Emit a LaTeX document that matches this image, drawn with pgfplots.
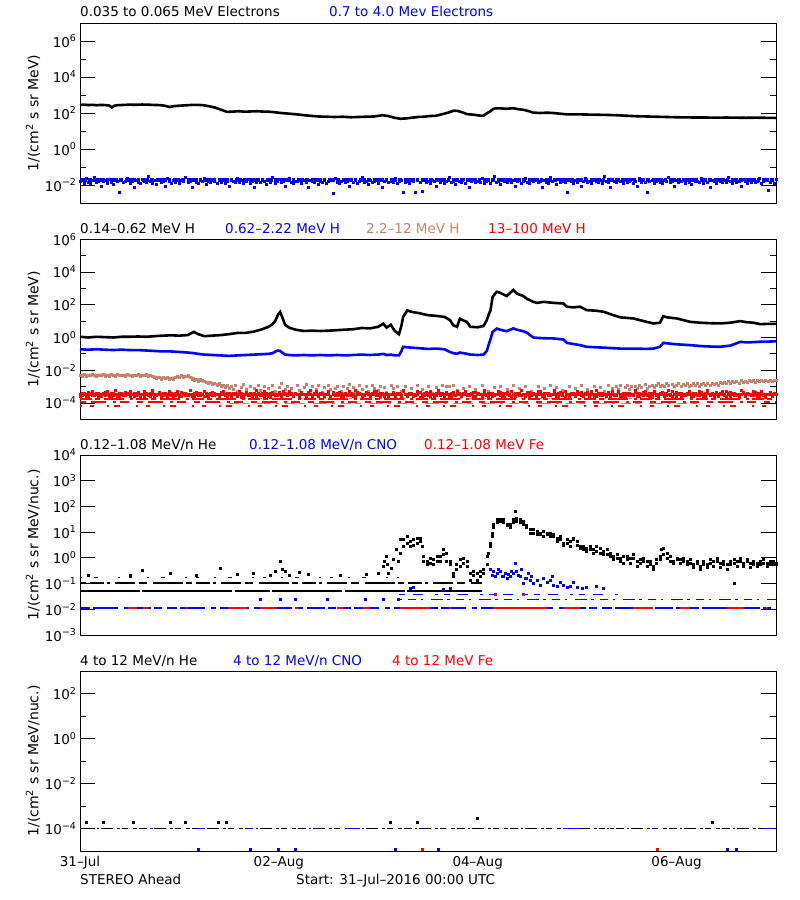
\documentclass[border=0pt]{standalone}
\usepackage{fontspec}
\setmainfont{DejaVu Sans}
\usepackage{pgfplots}
\pgfplotsset{compat=1.18}
\usepackage{pgfplotstable}
\definecolor{brn}{RGB}{200,130,105}
\newcommand{\tf}{\fontsize{13.5}{16}\selectfont}
\newcommand{\tl}[1]{10\textsuperscript{#1}}

\pgfplotstableread{
h eb r1 r2 b1
0 0.016 3.5e-4 2.6e-4 5.2e-3
0.5 0.020 2.9e-4 4.2e-4 4.6e-3
1 0.013 3.8e-4 3.2e-4 5.8e-3
1.5 0.024 2.6e-4 3.5e-4 4.4e-3
2 0.015 4.6e-4 2.3e-4 5.0e-3
2.5 0.012 3.2e-4 3.8e-4 4.8e-3
3 0.018 2.9e-4 5.2e-4 5.5e-3
3.5 0.027 3.5e-4 2.9e-4 4.9e-3
4 0.014 4.2e-4 3.5e-4 4.3e-3
4.5 0.017 2.6e-4 4.0e-4 5.3e-3
5 0.009 3.2e-4 2.6e-4 4.7e-3
5.5 0.016 3.8e-4 3.5e-4 6.0e-3
6 0.019 2.9e-4 4.6e-4 4.6e-3
6.5 0.013 5.2e-4 3.2e-4 5.1e-3
7 0.022 3.5e-4 2.6e-4 4.5e-3
7.5 0.015 2.3e-4 3.8e-4 5.4e-3
8 0.011 4.2e-4 2.9e-4 4.9e-3
8.5 0.018 3.2e-4 6.0e-4 4.4e-3
9 0.016 2.6e-4 3.5e-4 5.6e-3
9.5 0.004 3.8e-4 2.6e-4 5.0e-3
10 0.020 3.5e-4 4.2e-4 4.7e-3
10.5 0.014 2.9e-4 3.2e-4 5.2e-3
11 0.017 4.6e-4 2.9e-4 4.6e-3
11.5 0.024 3.2e-4 3.8e-4 5.7e-3
12 0.013 2.6e-4 5.2e-4 4.8e-3
12.5 0.016 3.5e-4 3.5e-4 4.3e-3
13 0.008 4.2e-4 2.6e-4 5.3e-3
13.5 0.019 2.9e-4 3.8e-4 4.9e-3
14 0.015 3.8e-4 4.6e-4 5.9e-3
14.5 0.012 2.6e-4 2.9e-4 4.5e-3
15 0.022 3.2e-4 3.5e-4 5.0e-3
15.5 0.017 5.2e-4 2.3e-4 4.7e-3
16 0.014 3.5e-4 4.2e-4 5.4e-3
16.5 0.030 2.9e-4 3.2e-4 4.4e-3
17 0.016 4.2e-4 2.6e-4 4.9e-3
17.5 0.013 3.8e-4 6.0e-4 4.2e-3
18 0.018 2.6e-4 3.5e-4 3.8e-3
18.5 0.011 3.5e-4 2.9e-4 3.3e-3
19 0.020 4.6e-4 3.8e-4 3.6e-3
19.5 0.015 3.2e-4 2.6e-4 2.9e-3
20 0.017 2.9e-4 4.2e-4 3.9e-3
20.5 0.009 3.8e-4 3.2e-4 3.1e-3
21 0.024 2.6e-4 3.5e-4 3.5e-3
21.5 0.016 3.5e-4 5.2e-4 2.7e-3
22 0.013 4.2e-4 2.9e-4 3.4e-3
22.5 0.019 3.2e-4 2.3e-4 3.0e-3
23 0.015 2.9e-4 3.8e-4 3.8e-3
23.5 0.022 5.2e-4 3.5e-4 4.4e-3
24 0.012 3.5e-4 2.6e-4 4.0e-3
24.5 0.018 2.6e-4 4.6e-4 4.7e-3
25 0.016 3.8e-4 3.2e-4 3.7e-3
25.5 0.027 4.2e-4 2.9e-4 4.3e-3
26 0.014 2.9e-4 3.5e-4 4.9e-3
26.5 0.017 3.2e-4 6.0e-4 3.9e-3
27 0.008 3.5e-4 2.6e-4 3.0e-3
27.5 0.020 2.6e-4 3.8e-4 2.6e-3
28 0.015 4.6e-4 3.2e-4 2.9e-3
28.5 0.013 3.8e-4 2.9e-4 2.2e-3
29 0.019 2.9e-4 4.2e-4 2.7e-3
29.5 0.016 3.2e-4 3.5e-4 2.4e-3
30 0.024 5.2e-4 2.6e-4 2.0e-3
30.5 0.011 2.6e-4 3.8e-4 1.8e-3
31 0.017 3.5e-4 2.3e-4 1.6e-3
31.5 0.014 4.2e-4 3.2e-4 1.9e-3
32 0.020 2.9e-4 4.6e-4 1.4e-3
32.5 0.016 3.8e-4 2.9e-4 1.7e-3
33 0.012 3.2e-4 3.5e-4 1.3e-3
33.5 0.018 2.6e-4 2.6e-4 1.5e-3
34 0.015 4.6e-4 3.8e-4 1.1e-3
34.5 0.022 3.5e-4 5.2e-4 1.3e-3
35 0.013 2.9e-4 3.2e-4 9.0e-4
35.5 0.017 3.8e-4 2.6e-4 1.2e-3
36 0.009 4.2e-4 3.5e-4 8.0e-4
36.5 0.019 2.6e-4 2.9e-4 1.0e-3
37 0.016 3.2e-4 4.2e-4 6.5e-4
37.5 0.014 3.5e-4 3.8e-4 1.2e-3
38 0.024 2.9e-4 2.6e-4 5.0e-4
38.5 0.015 5.2e-4 3.5e-4 nan
39 0.018 3.8e-4 2.3e-4 9.0e-4
39.5 0.012 2.6e-4 3.2e-4 1.4e-3
40 0.016 4.6e-4 4.6e-4 7.0e-4
40.5 0.020 3.2e-4 2.9e-4 nan
41 0.013 2.9e-4 3.8e-4 1.1e-3
41.5 0.017 3.5e-4 2.6e-4 4.0e-4
42 0.008 4.2e-4 3.5e-4 8.5e-4
42.5 0.015 2.6e-4 6.0e-4 nan
43 0.022 3.8e-4 3.2e-4 1.3e-3
43.5 0.014 3.5e-4 2.9e-4 6.0e-4
44 0.019 2.9e-4 4.2e-4 nan
44.5 0.016 5.2e-4 2.6e-4 1.0e-3
45 0.011 3.2e-4 3.8e-4 3.0e-4
45.5 0.018 2.6e-4 3.5e-4 7.5e-4
46 0.015 4.2e-4 2.3e-4 nan
46.5 0.027 3.8e-4 4.6e-4 1.2e-3
47 0.013 2.9e-4 3.2e-4 5.5e-4
47.5 0.017 3.5e-4 2.9e-4 nan
48 0.020 4.6e-4 3.8e-4 9.5e-4
48.5 0.014 2.6e-4 2.6e-4 1.5e-3
49 0.016 3.2e-4 5.2e-4 nan
49.5 0.009 3.8e-4 3.5e-4 6.5e-4
50 0.018 2.9e-4 2.9e-4 1.1e-3
50.5 0.024 5.2e-4 3.2e-4 nan
51 0.015 3.5e-4 4.2e-4 8.0e-4
51.5 0.012 2.6e-4 2.6e-4 3.5e-4
52 0.017 4.2e-4 3.8e-4 nan
52.5 0.016 3.2e-4 3.5e-4 1.2e-3
53 0.021 2.9e-4 2.3e-4 6.0e-4
53.5 0.013 3.8e-4 4.6e-4 nan
54 0.018 3.5e-4 3.2e-4 9.0e-4
54.5 0.015 2.6e-4 2.9e-4 1.4e-3
55 0.008 4.6e-4 3.8e-4 nan
55.5 0.019 3.2e-4 6.0e-4 5.0e-4
56 0.016 2.9e-4 2.6e-4 1.0e-3
56.5 0.014 3.8e-4 3.5e-4 nan
57 0.022 5.2e-4 3.2e-4 7.0e-4
57.5 0.011 2.6e-4 2.9e-4 1.2e-3
58 0.017 3.5e-4 4.2e-4 nan
58.5 0.015 4.2e-4 3.8e-4 4.5e-4
59 0.020 2.9e-4 2.6e-4 9.5e-4
59.5 0.013 3.2e-4 3.5e-4 nan
60 0.016 3.8e-4 5.2e-4 1.3e-3
60.5 0.018 2.6e-4 2.3e-4 6.5e-4
61 0.0035 4.6e-4 3.2e-4 nan
61.5 0.024 3.5e-4 2.9e-4 8.5e-4
62 0.015 2.9e-4 3.8e-4 1.1e-3
62.5 0.012 3.2e-4 4.6e-4 nan
63 0.017 4.2e-4 2.6e-4 5.5e-4
63.5 0.019 2.6e-4 3.5e-4 1.0e-3
64 0.014 3.8e-4 3.2e-4 nan
64.5 0.016 3.5e-4 2.9e-4 7.5e-4
65 0.009 5.2e-4 4.2e-4 1.4e-3
65.5 0.021 2.9e-4 3.8e-4 nan
66 0.015 3.2e-4 2.6e-4 9.0e-4
66.5 0.018 2.6e-4 6.0e-4 4.0e-4
67 0.013 4.6e-4 3.5e-4 nan
67.5 0.016 3.8e-4 3.2e-4 1.2e-3
68 0.027 3.5e-4 2.3e-4 7.0e-4
68.5 0.014 2.9e-4 2.9e-4 nan
69 0.017 4.2e-4 4.6e-4 1.0e-3
69.5 0.011 3.2e-4 3.8e-4 5.0e-4
70 0.019 2.6e-4 2.6e-4 nan
70.5 0.015 3.8e-4 3.5e-4 1.3e-3
71 0.016 5.2e-4 3.2e-4 8.0e-4
71.5 0.022 2.9e-4 5.2e-4 nan
72 0.013 3.5e-4 2.9e-4 6.0e-4
72.5 0.018 2.6e-4 3.8e-4 1.1e-3
73 0.008 4.2e-4 4.2e-4 nan
73.5 0.016 3.2e-4 2.6e-4 9.0e-4
74 0.020 3.8e-4 3.5e-4 4.5e-4
74.5 0.014 2.9e-4 2.3e-4 nan
75 0.017 3.5e-4 3.2e-4 1.2e-3
75.5 0.015 4.6e-4 4.6e-4 7.5e-4
76 0.024 2.6e-4 2.9e-4 nan
76.5 0.012 3.2e-4 3.8e-4 1.0e-3
77 0.016 3.8e-4 3.5e-4 nan
77.5 0.019 2.9e-4 2.6e-4 5.5e-4
78 0.004 5.2e-4 6.0e-4 nan
78.5 0.015 3.5e-4 3.2e-4 1.1e-3
79 0.017 2.6e-4 2.9e-4 nan
79.5 0.013 4.2e-4 4.2e-4 nan
80 0.021 3.8e-4 3.8e-4 8.0e-4
80.5 0.016 3.2e-4 2.6e-4 nan
81 0.004 2.9e-4 3.5e-4 nan
81.5 0.018 3.5e-4 5.2e-4 1.2e-3
82 0.014 4.6e-4 2.3e-4 nan
82.5 0.0045 2.6e-4 3.2e-4 6.5e-4
83 0.022 3.8e-4 2.9e-4 nan
83.5 0.015 3.2e-4 4.6e-4 nan
84 0.017 2.9e-4 3.8e-4 1.0e-3
84.5 0.012 5.2e-4 2.6e-4 nan
85 0.019 3.5e-4 3.5e-4 4.0e-4
85.5 0.016 2.6e-4 3.2e-4 nan
86 0.009 4.2e-4 2.9e-4 9.0e-4
86.5 0.020 3.8e-4 6.0e-4 nan
87 0.015 2.9e-4 4.2e-4 nan
87.5 0.018 3.2e-4 3.8e-4 1.3e-3
88 0.013 3.5e-4 2.6e-4 nan
88.5 0.016 4.6e-4 3.5e-4 1.1e-3
89 0.027 2.6e-4 3.2e-4 1.0e-3
89.5 0.014 3.8e-4 2.3e-4 nan
90 0.017 3.2e-4 4.6e-4 1.2e-3
90.5 0.011 2.9e-4 2.9e-4 nan
91 0.019 5.2e-4 3.8e-4 6.0e-4
91.5 0.016 3.5e-4 4.2e-4 nan
92 0.015 2.6e-4 2.6e-4 nan
92.5 0.022 4.2e-4 3.5e-4 8.5e-4
93 0.013 3.8e-4 5.2e-4 nan
93.5 0.018 2.9e-4 3.2e-4 nan
94 0.008 3.2e-4 2.9e-4 1.1e-3
94.5 0.016 3.5e-4 3.8e-4 nan
95 0.020 4.6e-4 2.6e-4 nan
95.5 0.014 2.6e-4 4.6e-4 7.0e-4
96 0.017 3.8e-4 3.5e-4 nan
96.5 0.015 3.2e-4 3.2e-4 nan
97 0.024 2.9e-4 2.3e-4 1.2e-3
97.5 0.012 5.2e-4 6.0e-4 nan
98 0.016 3.5e-4 2.9e-4 nan
98.5 0.019 2.6e-4 3.8e-4 5.0e-4
99 0.013 4.2e-4 4.2e-4 nan
99.5 0.018 3.8e-4 2.6e-4 nan
100 0.030 2.9e-4 3.5e-4 9.0e-4
100.5 0.015 3.2e-4 3.2e-4 nan
101 0.017 3.5e-4 5.2e-4 nan
101.5 0.011 4.6e-4 2.9e-4 1.0e-3
102 0.020 2.6e-4 3.8e-4 nan
102.5 0.016 3.8e-4 2.3e-4 nan
103 0.014 3.2e-4 4.6e-4 6.5e-4
103.5 0.022 2.9e-4 3.5e-4 nan
104 0.015 5.2e-4 2.6e-4 nan
104.5 0.018 3.5e-4 3.2e-4 1.2e-3
105 0.009 2.6e-4 4.2e-4 nan
105.5 0.016 4.2e-4 3.8e-4 nan
106 0.019 3.8e-4 2.9e-4 8.0e-4
106.5 0.013 2.9e-4 6.0e-4 nan
107 0.017 3.2e-4 3.5e-4 nan
107.5 0.024 3.5e-4 2.6e-4 1.0e-3
108 0.015 4.6e-4 3.2e-4 nan
108.5 0.012 2.6e-4 4.6e-4 nan
109 0.018 3.8e-4 2.9e-4 5.5e-4
109.5 0.016 3.2e-4 3.8e-4 nan
110 0.021 2.9e-4 2.3e-4 nan
110.5 0.014 5.2e-4 3.5e-4 1.1e-3
111 0.017 3.5e-4 5.2e-4 nan
111.5 0.008 2.6e-4 3.2e-4 nan
112 0.019 4.2e-4 2.6e-4 7.5e-4
112.5 0.015 3.8e-4 4.2e-4 nan
113 0.013 2.9e-4 3.8e-4 nan
113.5 0.027 3.2e-4 2.9e-4 1.3e-3
114 0.016 3.5e-4 3.5e-4 nan
114.5 0.018 4.6e-4 6.0e-4 nan
115 0.011 2.6e-4 3.2e-4 9.0e-4
115.5 0.020 3.8e-4 2.6e-4 nan
116 0.015 3.2e-4 4.6e-4 nan
116.5 0.017 2.9e-4 3.8e-4 6.0e-4
117 0.014 5.2e-4 2.3e-4 nan
117.5 0.004 3.5e-4 3.5e-4 nan
118 0.022 2.6e-4 2.9e-4 1.0e-3
118.5 0.016 4.2e-4 4.2e-4 nan
119 0.013 3.8e-4 3.2e-4 nan
119.5 0.018 2.9e-4 2.6e-4 8.5e-4
120 0.015 3.2e-4 5.2e-4 nan
120.5 0.019 3.5e-4 3.8e-4 nan
121 0.009 4.6e-4 2.9e-4 1.2e-3
121.5 0.016 2.6e-4 3.5e-4 nan
122 0.024 3.8e-4 3.2e-4 nan
122.5 0.014 3.2e-4 4.6e-4 7.0e-4
123 0.017 2.9e-4 2.6e-4 nan
123.5 0.012 5.2e-4 3.8e-4 nan
124 0.020 3.5e-4 2.3e-4 1.1e-3
124.5 0.016 2.6e-4 6.0e-4 nan
125 0.015 4.2e-4 3.5e-4 nan
125.5 0.018 3.8e-4 2.9e-4 9.0e-4
126 0.013 2.9e-4 4.2e-4 nan
126.5 0.030 3.2e-4 3.2e-4 5.0e-4
127 0.017 3.5e-4 2.6e-4 nan
127.5 0.015 4.6e-4 3.8e-4 1.2e-3
128 0.008 2.6e-4 3.5e-4 nan
128.5 0.019 3.8e-4 5.2e-4 8.0e-4
129 0.016 3.2e-4 2.9e-4 nan
129.5 0.014 2.9e-4 3.2e-4 1.0e-3
130 0.022 5.2e-4 4.6e-4 7.0e-4
130.5 0.017 3.5e-4 2.6e-4 1.2e-3
131 0.012 2.6e-4 3.8e-4 nan
131.5 0.018 4.2e-4 2.3e-4 9.0e-4
132 0.015 3.8e-4 3.5e-4 1.3e-3
132.5 0.016 2.9e-4 4.2e-4 6.5e-4
133 0.020 3.2e-4 3.2e-4 1.0e-3
133.5 0.013 3.5e-4 2.9e-4 nan
134 0.017 4.6e-4 6.0e-4 1.1e-3
134.5 0.009 2.6e-4 3.8e-4 8.0e-4
135 0.024 3.8e-4 2.6e-4 1.2e-3
135.5 0.015 3.2e-4 3.5e-4 9.5e-4
136 0.018 2.9e-4 4.6e-4 nan
136.5 0.014 5.2e-4 3.2e-4 1.4e-3
137 0.004 3.5e-4 2.9e-4 7.5e-4
137.5 0.016 2.6e-4 3.8e-4 1.1e-3
138 0.019 4.2e-4 2.3e-4 1.3e-3
138.5 0.013 3.8e-4 5.2e-4 9.0e-4
139 0.017 2.9e-4 3.5e-4 1.2e-3
139.5 0.021 3.2e-4 2.6e-4 1.5e-3
140 0.015 3.5e-4 4.2e-4 1.0e-3
140.5 0.012 4.6e-4 3.2e-4 1.3e-3
141 0.018 2.6e-4 3.8e-4 1.1e-3
141.5 0.016 3.8e-4 2.9e-4 1.6e-3
142 0.027 3.2e-4 6.0e-4 1.2e-3
142.5 0.014 2.9e-4 3.5e-4 nan
143 0.017 5.2e-4 2.6e-4 1.4e-3
143.5 0.009 3.5e-4 3.2e-4 1.0e-3
144 0.019 2.6e-4 4.6e-4 1.3e-3
144.5 0.015 4.2e-4 3.8e-4 1.5e-3
145 0.016 3.8e-4 2.3e-4 1.1e-3
145.5 0.022 2.9e-4 3.5e-4 1.4e-3
146 0.013 3.2e-4 2.9e-4 1.2e-3
146.5 0.018 3.5e-4 4.2e-4 1.6e-3
147 0.015 4.6e-4 5.2e-4 1.0e-3
147.5 0.011 2.6e-4 3.2e-4 1.3e-3
148 0.020 3.8e-4 2.6e-4 1.5e-3
148.5 0.016 3.2e-4 3.8e-4 1.2e-3
149 0.017 2.9e-4 3.5e-4 1.7e-3
149.5 0.014 5.2e-4 2.9e-4 1.1e-3
150 0.024 3.5e-4 4.6e-4 1.4e-3
150.5 0.012 2.6e-4 3.2e-4 1.6e-3
151 0.018 4.2e-4 2.6e-4 1.3e-3
151.5 0.015 3.8e-4 6.0e-4 1.5e-3
152 0.008 2.9e-4 3.5e-4 1.2e-3
152.5 0.019 3.2e-4 3.8e-4 1.7e-3
153 0.016 3.5e-4 2.3e-4 1.4e-3
153.5 0.013 4.6e-4 4.2e-4 1.6e-3
154 0.021 2.6e-4 2.9e-4 1.3e-3
154.5 0.017 3.8e-4 3.2e-4 1.8e-3
155 0.015 3.2e-4 5.2e-4 1.5e-3
155.5 0.018 2.9e-4 3.5e-4 1.9e-3
156 0.014 5.2e-4 2.6e-4 1.6e-3
156.5 0.027 3.5e-4 3.8e-4 2.0e-3
157 0.016 2.6e-4 4.6e-4 1.7e-3
157.5 0.012 4.2e-4 3.2e-4 2.2e-3
158 0.019 3.8e-4 2.9e-4 1.8e-3
158.5 0.015 2.9e-4 3.5e-4 2.1e-3
159 0.017 3.2e-4 2.3e-4 1.6e-3
159.5 0.009 3.5e-4 6.0e-4 2.3e-3
160 0.022 4.6e-4 3.8e-4 1.9e-3
160.5 0.016 2.6e-4 2.6e-4 2.2e-3
161 0.013 3.8e-4 4.2e-4 1.8e-3
161.5 0.018 3.2e-4 3.5e-4 2.4e-3
162 0.015 2.9e-4 3.2e-4 2.0e-3
162.5 0.020 5.2e-4 2.9e-4 2.3e-3
163 0.014 3.5e-4 4.6e-4 1.9e-3
163.5 0.017 2.6e-4 3.8e-4 2.5e-3
164 0.024 4.2e-4 2.6e-4 2.1e-3
164.5 0.012 3.8e-4 5.2e-4 2.3e-3
165 0.016 2.9e-4 3.5e-4 2.0e-3
165.5 0.019 3.2e-4 2.3e-4 2.4e-3
166 0.005 3.5e-4 3.2e-4 2.2e-3
166.5 0.015 4.6e-4 4.2e-4 2.6e-3
167 0.018 2.6e-4 2.9e-4 2.1e-3
167.5 0.013 3.8e-4 3.8e-4 2.4e-3
168 0.021 3.2e-4 3.5e-4 2.3e-3
}\tabA

\pgfplotstableread{
h k b
0 1.1 0.19
2 1.0 0.18
4 1.1 0.19
6 1.05 0.18
8 1.0 0.17
10 1.1 0.18
12 1.1 0.17
14 1.15 0.17
16 1.1 0.16
18 1.2 0.15
20 1.3 0.14
22 1.35 0.14
24 1.3 0.13
26 1.4 0.12
27.5 2.2 0.11
28.5 1.6 0.10
30 1.2 0.09
32 1.3 0.085
34 1.4 0.08
36 1.6 0.075
38 1.9 0.08
40 1.9 0.085
42 2.3 0.09
44 3.2 0.095
45.5 4.5 0.1
46.5 6.5 0.11
47.2 11 0.14
47.8 25 0.16
48.3 36 0.15
48.8 18 0.12
49.5 6 0.09
50.5 4 0.085
52 3 0.08
54 2.5 0.085
56 2.6 0.08
58 2.5 0.085
60 2.6 0.08
62 2.8 0.085
64 3.0 0.08
66 3.2 0.085
68 3.8 0.09
70 3.6 0.085
72 4.5 0.09
73.2 7 0.1
74 4 0.085
75 6 0.09
76 2.5 0.08
77 1.6 0.08
77.6 5.6 0.15
78 18 0.27
79 45 0.25
80 37 0.24
82 30 0.22
84 23 0.2
86 21 0.21
88 18 0.19
89.3 11.5 0.13
90.1 5.6 0.11
91 4.5 0.1
91.7 14 0.12
92.5 11 0.11
93.4 9 0.1
94.2 4.5 0.09
96 4.2 0.085
97.4 5 0.09
98.2 11.5 0.15
98.6 23 0.34
99.1 47 0.8
99.6 310 2.2
100.6 620 3.5
101.4 540 3.0
103 340 2.4
104.6 800 3.6
105.4 490 3.0
107 340 2.4
108 220 1.9
108.6 190 1.4
109.4 150 1.0
110.3 130 0.95
111.9 150 0.9
114.3 130 0.87
116.7 120 0.75
117.5 76 0.47
119.1 69 0.4
120.7 76 0.34
122.3 47 0.27
124.7 43 0.25
126.4 37 0.24
128.8 23 0.22
130.4 17 0.21
133.6 14.5 0.21
136.8 9 0.2
138.4 7.2 0.21
140 8 0.27
140.8 20 0.47
141.7 17 0.44
144.1 14.5 0.38
147.3 9 0.34
149.7 8 0.3
152 7.5 0.28
154.5 7.2 0.27
157 8 0.32
159.4 10 0.54
161 8.5 0.5
162.6 8 0.52
164.2 6.5 0.55
166 6.8 0.56
168 6.8 0.58
}\tabB

\pgfplotstableread{
h a c
77.3 5.1 1.55
78.1 5.1 2.8
78.9 3.8 6.9
79.7 4.4 2.8
80.5 5.1 3.2
81.3 5.9 3.8
82.1 5.9 4.4
82.5 2.8 nan
82.9 1.15 0.75
83.7 0.75 0.55
84.5 1.0 0.64
85.3 0.87 0.55
86.1 0.75 1.15
86.9 1.15 0.75
87.7 2.1 1.35
88.5 1.55 0.75
89.3 0.75 0.55
90.1 0.26 0.19
90.9 0.55 0.35
91.7 0.87 0.48
92.5 1.0 0.64
93.4 0.75 0.48
94.2 0.26 0.13
95.0 0.3 0.22
95.8 0.26 0.13
96.6 0.3 0.19
97.4 0.26 0.35
98.2 1.15 0.55
98.6 1.55 nan
99.0 3.8 2.8
99.4 9.4 6.9
99.8 20 15
100.6 31 24
101.4 27 33
102.2 24 31
103.0 18 20
103.8 20 15
104.6 31 24
105.0 65 nan
105.4 36 27
106.2 31 24
107.0 20 27
107.8 15 18
108.6 13 9.4
109.4 9.4 13
110.3 8 11
111.1 8 9.4
111.9 11 6.9
112.7 9.4 8
113.5 9.4 6.9
114.3 6.9 8
115.1 5.9 4.4
115.9 5.1 6.9
116.7 3.8 3.2
117.5 3.8 5.1
118.3 2.8 4.4
119.1 5.1 5.9
119.9 4.4 3.2
120.7 2.4 2.8
121.5 2.8 2.1
122.3 2.4 1.8
123.1 2.8 2.1
123.9 2.1 1.55
124.7 2.8 1.8
125.5 2.4 1.55
126.4 1.8 1.35
127.2 1.35 2.1
128.0 1.15 1.55
128.8 1.15 0.87
129.6 1.0 1.35
130.4 1.0 0.75
131.2 1.15 0.64
132.0 0.87 1.15
132.8 1.0 0.64
133.6 1.0 1.35
134.4 0.75 0.48
135.2 0.87 0.64
136.0 0.75 1.0
136.8 0.75 0.48
137.6 0.55 0.75
138.4 0.48 0.35
139.2 0.64 0.87
140.0 0.87 1.15
140.4 2.1 nan
140.8 2.4 1.35
141.7 1.55 1.0
142.5 1.15 0.75
143.3 0.75 0.64
144.1 0.87 1.0
144.9 0.87 0.64
145.7 0.75 1.0
146.5 0.75 0.55
147.3 0.64 0.87
148.1 0.55 0.42
148.9 0.64 0.75
149.7 0.48 0.35
150.5 0.55 0.75
151.3 0.55 0.42
152.1 0.64 0.87
152.9 0.75 0.48
153.7 0.75 1.0
154.5 0.64 0.42
155.3 0.55 0.75
156.1 0.55 0.35
156.9 0.75 0.55
157.8 0.64 0.87
158.6 0.75 0.48
159.4 0.75 1.0
160.2 0.64 0.48
161.0 0.75 0.87
161.8 0.64 0.42
162.6 0.55 0.75
163.4 0.64 0.48
164.2 0.55 0.75
165.0 0.64 0.87
165.8 0.64 0.48
166.6 0.55 0.75
167.4 0.75 0.55
168.0 0.55 0.64
}\tabD

\begin{document}
\begin{tikzpicture}
\path[use as bounding box] (0pt,0pt) rectangle (800pt,900pt);

% ---------- Panel 1 ----------
\begin{axis}[at={(80pt,697pt)}, anchor=south west,
  width=696pt, height=180pt, scale only axis,
  xmin=0, xmax=168, ymode=log, ymin=1e-3, ymax=1e7,
  axis line style={line width=0.8pt},
  tick style={black, line width=0.8pt}, tick align=inside,
  major tick length=15pt, minor tick length=6pt,
  xtick=\empty, minor xtick={0,12,...,168},
  ytick={1e-2,1,1e2,1e4,1e6},
  yticklabels={\tl{−2},\tl{0},\tl{2},\tl{4},\tl{6}},
  minor ytick={1e-1,1e1,1e3,1e5},
  yticklabel style={font=\fontsize{13.5}{15}\selectfont},
  ylabel={1/(cm\textsuperscript{2} s sr MeV)},
  ylabel style={at={(axis description cs:-0.0675,0.5)}, anchor=center, font=\fontsize{14}{16}\selectfont}]
\addplot[black, line width=2.6pt] coordinates {
(0,280)(1,290)(2,275)(3,285)(4,270)(5,280)(6,275)(7,262)(7.7,205)(8.2,250)(9,270)(10.5,280)(12,290)(13.5,285)(15,295)(16.3,290)(17.8,280)(19.2,275)(20.6,250)(21.6,215)(22.6,240)(24,255)(25.4,265)(26.9,280)(28.3,285)(29.8,270)(31.2,235)(32.6,200)(34.1,150)(35.5,115)(37,120)(38.4,125)(39.8,118)(41.3,122)(42.7,125)(44.2,120)(45.6,118)(47,110)(48.5,100)(50.4,92)(52.3,84)(54.2,75)(56.2,68)(57.6,64)(59.5,62)(61.4,60)(63.4,62)(65.3,58)(67.2,60)(69.1,62)(71,64)(73,75)(74.4,68)(75.8,55)(77.3,48)(78.7,50)(80.2,55)(81.6,60)(83,62)(84.5,68)(85.9,70)(87.4,85)(89.3,112)(90.2,135)(91.2,130)(92.2,110)(93.4,87)(95,80)(96.5,72)(97.4,71)(98.2,95)(99,123)(99.6,160)(100.2,182)(101.5,180)(103,172)(104.6,185)(105.6,165)(107,150)(107.9,135)(109.4,105)(111,100)(112.8,104)(114.2,100)(115.7,92)(117.6,84)(120,84)(122.4,82)(124.8,80)(127.2,78)(129.6,75)(132,70)(134.4,66)(136.8,64)(139.2,62)(141.6,60)(144,58)(146.4,57)(148.8,56)(151.2,56)(153.6,55)(156,56)(158.4,55)(160.8,54)(163.2,55)(165.6,54)(168,53)};
\addplot[blue, line width=3.5pt, dash pattern=on 7pt off 1pt on 4pt off 2pt on 11pt off 1pt on 3pt off 2pt] coordinates {(0,0.019)(168,0.019)};
\addplot[blue, only marks, mark=square*, mark size=1pt] table[x=h, y=eb] {\tabA};
\end{axis}

% ---------- Panel 2 ----------
\begin{axis}[at={(80pt,480.7pt)}, anchor=south west,
  width=696pt, height=180pt, scale only axis,
  xmin=0, xmax=168, ymode=log, ymin=1e-5, ymax=1e6,
  axis line style={line width=0.8pt},
  tick style={black, line width=0.8pt}, tick align=inside,
  major tick length=15pt, minor tick length=6pt,
  xtick=\empty, minor xtick={0,12,...,168},
  ytick={1e-4,1e-2,1,1e2,1e4,1e6},
  yticklabels={\tl{−4},\tl{−2},\tl{0},\tl{2},\tl{4},\tl{6}},
  minor ytick={1e-3,1e-1,1e1,1e3,1e5},
  yticklabel style={font=\fontsize{13.5}{15}\selectfont},
  ylabel={1/(cm\textsuperscript{2} s sr MeV)},
  ylabel style={at={(axis description cs:-0.0675,0.5)}, anchor=center, font=\fontsize{14}{16}\selectfont}]
\addplot[black, line width=2.6pt] table[x=h, y=k] {\tabB};
\addplot[blue, line width=2.6pt] table[x=h, y=b] {\tabB};
\addplot[brn, line width=2.6pt] coordinates {(0,5e-3)(6,5.1e-3)(12,4.9e-3)(17,4.7e-3)(19,3.4e-3)(22,3.2e-3)(24.5,4.2e-3)(26.5,3.9e-3)(28,2.8e-3)(30,2.0e-3)(32,1.6e-3)(34,1.2e-3)(36,9e-4)};
\addplot[brn, only marks, mark=square*, mark size=1pt] table[x=h, y=b1] {\tabA};
\addplot[brn, line width=1.6pt, dash pattern=on 10pt off 4pt on 6pt off 8pt on 14pt off 5pt on 3pt off 6pt] coordinates {(36,9e-5)(150,9e-5)};
\addplot[brn, line width=1.4pt, dash pattern=on 3pt off 9pt on 5pt off 14pt on 2pt off 7pt] coordinates {(36,1.9e-4)(140,1.9e-4)};
\addplot[red, line width=3pt, dash pattern=on 9pt off 1pt on 5pt off 2pt on 12pt off 1pt on 4pt off 2pt] coordinates {(0,3.4e-4)(168,3.4e-4)};
\addplot[red, only marks, mark=square*, mark size=1pt] table[x=h, y=r1] {\tabA};
\addplot[red, only marks, mark=square*, mark size=1pt] table[x=h, y=r2] {\tabA};
\addplot[red, line width=1.5pt, dash pattern=on 12pt off 3pt on 5pt off 4pt on 20pt off 6pt on 3pt off 3pt] coordinates {(0,1.8e-4)(168,1.8e-4)};
\addplot[red, line width=1.4pt, dash pattern=on 6pt off 5pt on 15pt off 7pt on 3pt off 4pt on 9pt off 8pt] coordinates {(0,1.15e-4)(168,1.15e-4)};
\addplot[red, line width=1.3pt, dash pattern=on 2pt off 8pt on 4pt off 13pt on 2pt off 5pt on 6pt off 16pt] coordinates {(0,6.5e-5)(168,6.5e-5)};
\end{axis}

% ---------- Panel 3 ----------
\begin{axis}[at={(80pt,265pt)}, anchor=south west,
  width=696pt, height=180pt, scale only axis,
  xmin=0, xmax=168, ymode=log, ymin=1e-3, ymax=1e4,
  axis line style={line width=0.8pt},
  tick style={black, line width=0.8pt}, tick align=inside,
  major tick length=15pt, minor tick length=6pt,
  xtick=\empty, minor xtick={0,12,...,168},
  ytick={1e-3,1e-2,1e-1,1,1e1,1e2,1e3,1e4},
  yticklabels={\tl{−3},\tl{−2},\tl{−1},\tl{0},\tl{1},\tl{2},\tl{3},\tl{4}},
  yminorticks=false,
  yticklabel style={font=\fontsize{13.5}{15}\selectfont},
  ylabel={1/(cm\textsuperscript{2} s sr MeV/nuc.)},
  ylabel style={at={(axis description cs:-0.0675,0.5)}, anchor=center, font=\fontsize{14}{16}\selectfont}]
\addplot[black, line width=2pt, dash pattern=on 60pt off 2pt on 90pt off 3pt on 35pt off 2pt on 70pt off 3pt] coordinates {(0,0.053)(97,0.053)};
\addplot[black, line width=1.8pt, dash pattern=on 6pt off 4pt on 14pt off 3pt on 3pt off 5pt on 20pt off 4pt on 8pt off 6pt on 30pt off 3pt] coordinates {(0,0.107)(97,0.107)};
\addplot[black, line width=1.5pt, dash pattern=on 2pt off 12pt on 4pt off 20pt on 2pt off 9pt on 3pt off 15pt] coordinates {(0,0.17)(77,0.17)};
\addplot[black, only marks, mark=square*, mark size=1pt] coordinates {(2,0.22)(12,0.21)(15,0.33)(21.7,0.25)(28,0.21)(33.8,0.41)(38,0.24)(41.8,0.25)(45.9,0.22)(47,0.3)(48.3,0.74)(48.8,0.35)(49.5,0.3)(50.5,0.22)(53,0.27)(55,0.24)(62.8,0.21)(69.2,0.24)(72,0.25)(73.2,0.47)(73.5,0.74)(73.8,1.15)(74.2,0.55)(74.5,0.25)(75,0.4)(75.5,0.9)(76.4,2.1)(76.8,0.74)(158,0.107)};
\addplot[black, only marks, mark=square*, mark size=1pt] table[x=h, y=a] {\tabD};
\addplot[black, only marks, mark=square*, mark size=1pt] table[x=h, y=c] {\tabD};
\addplot[blue, line width=2pt, dash pattern=on 10pt off 3pt on 25pt off 6pt on 5pt off 4pt on 18pt off 3pt on 8pt off 5pt] coordinates {(0,0.0113)(168,0.0113)};
\addplot[blue, line width=1.6pt, dash pattern=on 3pt off 6pt on 8pt off 5pt on 2pt off 8pt on 12pt off 4pt] coordinates {(77,0.024)(168,0.024)};
\addplot[blue, line width=1.6pt, dash pattern=on 6pt off 8pt on 10pt off 12pt on 3pt off 6pt] coordinates {(77,0.037)(130,0.037)};
\addplot[blue, only marks, mark=square*, mark size=1pt] coordinates {(43.4,0.024)(48.3,0.024)(51.9,0.024)(59.6,0.024)(68.8,0.024)(73.2,0.024)(76.9,0.024)(79.7,0.065)(80.5,0.07)(87.7,0.06)(89.3,0.065)};
\addplot[blue, only marks, mark=square*, mark size=1pt] coordinates {(99,0.35)(99.4,0.22)(99.8,0.3)(100.2,0.19)(100.6,0.26)(101,0.35)(101.4,0.3)(101.8,0.2)(102.2,0.19)(102.6,0.26)(103,0.16)(103.4,0.24)(103.8,0.19)(104.2,0.3)(104.6,0.26)(105,0.64)(105.4,0.3)(105.8,0.22)(106.2,0.19)(106.6,0.35)(107,0.107)(107.4,0.16)(107.8,0.16)(108.2,0.26)(108.6,0.13)(109,0.19)(109.4,0.107)(110.3,0.13)(111.1,0.09)(111.9,0.16)(112.7,0.11)(113.5,0.13)(113.9,0.2)(114.3,0.09)(115.1,0.08)(115.9,0.11)(116.7,0.09)(117.5,0.07)(118.3,0.08)(119.1,0.11)(119.9,0.07)(121.1,0.065)(122.3,0.07)(124.7,0.08)(126.4,0.065)};
\addplot[red, line width=2pt, unbounded coords=jump] coordinates {(11.7,0.0113)(13.7,0.0113)(13.8,nan)(15.3,0.0113)(16.5,0.0113)(16.6,nan)(25.5,0.0113)(26.1,0.0113)(26.2,nan)(35.8,0.0113)(40.3,0.0113)(40.4,nan)(43.4,0.0113)(47.5,0.0113)(47.6,nan)(52,0.0113)(52.6,0.0113)(52.7,nan)(62,0.0113)(63.6,0.0113)(63.7,nan)(68.4,0.0113)(70,0.0113)(70.1,nan)(77.3,0.0113)(84.5,0.0113)(84.6,nan)(89,0.0113)(89.6,0.0113)(89.7,nan)(99.8,0.0113)(112.7,0.0113)(112.8,nan)(116.7,0.0113)(120.7,0.0113)(120.8,nan)(133.6,0.0113)(138.4,0.0113)(138.5,nan)(144.9,0.0113)(147.3,0.0113)(147.4,nan)(156.1,0.0113)(160.2,0.0113)(160.3,nan)(165.5,0.0113)(166.1,0.0113)};
\addplot[red, only marks, mark=square*, mark size=1pt] coordinates {(100.2,0.037)(107,0.037)};
\end{axis}

% ---------- Panel 4 ----------
\begin{axis}[at={(80pt,49pt)}, anchor=south west,
  width=696pt, height=180pt, scale only axis,
  xmin=0, xmax=168, ymode=log, ymin=1e-5, ymax=1e3,
  axis line style={line width=0.8pt},
  tick style={black, line width=0.8pt}, tick align=inside,
  major tick length=15pt, minor tick length=6pt,
  xtick={0,48,96,144}, xticklabels={31–Jul,02–Aug,04–Aug,06–Aug},
  xtick style={draw=none},
  minor xtick={0,12,...,168},
  xticklabel style={font=\fontsize{13.5}{15}\selectfont, yshift=-2pt},
  ytick={1e-4,1e-2,1,1e2},
  yticklabels={\tl{−4},\tl{−2},\tl{0},\tl{2}},
  minor ytick={1e-3,1e-1,1e1},
  yticklabel style={font=\fontsize{13.5}{15}\selectfont},
  ylabel={1/(cm\textsuperscript{2} s sr MeV/nuc.)},
  ylabel style={at={(axis description cs:-0.0675,0.5)}, anchor=center, font=\fontsize{14}{16}\selectfont}]
\addplot[black, line width=1.3pt, dash pattern=on 4pt off 2pt on 8pt off 3pt on 2pt off 2pt on 12pt off 4pt on 3pt off 2pt on 6pt off 5pt] coordinates {(0,1e-4)(168,1e-4)};
\addplot[black, only marks, mark=square*, mark size=1pt] coordinates {(1.6,2e-4)(5.6,2e-4)(12.9,2e-4)(21.7,2e-4)(25.3,2e-4)(33.4,2e-4)(35.4,2e-4)(74.8,2e-4)(81.3,2e-4)(95.8,3e-4)(152.5,2e-4)};
\addplot[blue, line width=1.5pt, unbounded coords=jump] coordinates {(9,1e-4)(9.6,1e-4)(9.7,nan)(17,1e-4)(17.6,1e-4)(17.7,nan)(28.2,1e-4)(30.2,1e-4)(30.3,nan)(40.6,1e-4)(41.8,1e-4)(41.9,nan)(56.5,1e-4)(57.1,1e-4)(57.2,nan)(64.4,1e-4)(67.6,1e-4)(67.7,nan)(83,1e-4)(83.6,1e-4)(83.7,nan)(113.2,1e-4)(113.8,1e-4)(113.9,nan)(116.7,1e-4)(120.7,1e-4)(120.8,nan)(127.2,1e-4)(127.8,1e-4)(127.9,nan)(138.5,1e-4)(139.1,1e-4)(139.2,nan)(164.5,1e-4)(167.4,1e-4)};
\addplot[blue, only marks, mark=square*, mark size=1pt] coordinates {(28.6,1.2e-5)(41,1.2e-5)(47.9,1.2e-5)(51.9,1.2e-5)(76,1.2e-5)(86.5,1.2e-5)(156.1,1.2e-5)(158.5,1.2e-5)};
\addplot[red, only marks, mark=square*, mark size=1pt] coordinates {(82.5,1.2e-5)(139.4,1.2e-5)};
\end{axis}

% ---------- titles ----------
\node[anchor=base west, inner sep=0, font=\tf, text=black] at (80pt,883pt) {0.035 to 0.065 MeV Electrons};
\node[anchor=base west, inner sep=0, font=\tf, text=blue] at (329pt,883pt) {0.7 to 4.0 Mev Electrons};
\node[anchor=base west, inner sep=0, font=\tf, text=black] at (80pt,666pt) {0.14–0.62 MeV H};
\node[anchor=base west, inner sep=0, font=\tf, text=blue] at (225pt,666pt) {0.62–2.22 MeV H};
\node[anchor=base west, inner sep=0, font=\tf, text=brn] at (366pt,666pt) {2.2–12 MeV H};
\node[anchor=base west, inner sep=0, font=\tf, text=red] at (488pt,666pt) {13–100 MeV H};
\node[anchor=base west, inner sep=0, font=\tf, text=black] at (80pt,450pt) {0.12–1.08 MeV/n He};
\node[anchor=base west, inner sep=0, font=\tf, text=blue] at (249pt,450pt) {0.12–1.08 MeV/n CNO};
\node[anchor=base west, inner sep=0, font=\tf, text=red] at (424pt,450pt) {0.12–1.08 MeV Fe};
\node[anchor=base west, inner sep=0, font=\tf, text=black] at (80pt,234pt) {4 to 12 MeV/n He};
\node[anchor=base west, inner sep=0, font=\tf, text=blue] at (233pt,234pt) {4 to 12 MeV/n CNO};
\node[anchor=base west, inner sep=0, font=\tf, text=red] at (392pt,234pt) {4 to 12 MeV Fe};
\node[anchor=base west, inner sep=0, font=\tf] at (80pt,15pt) {STEREO Ahead};
\node[anchor=base west, inner sep=0, font=\tf] at (296pt,15pt) {Start: 31–Jul–2016 00:00 UTC};
\end{tikzpicture}
\end{document}
